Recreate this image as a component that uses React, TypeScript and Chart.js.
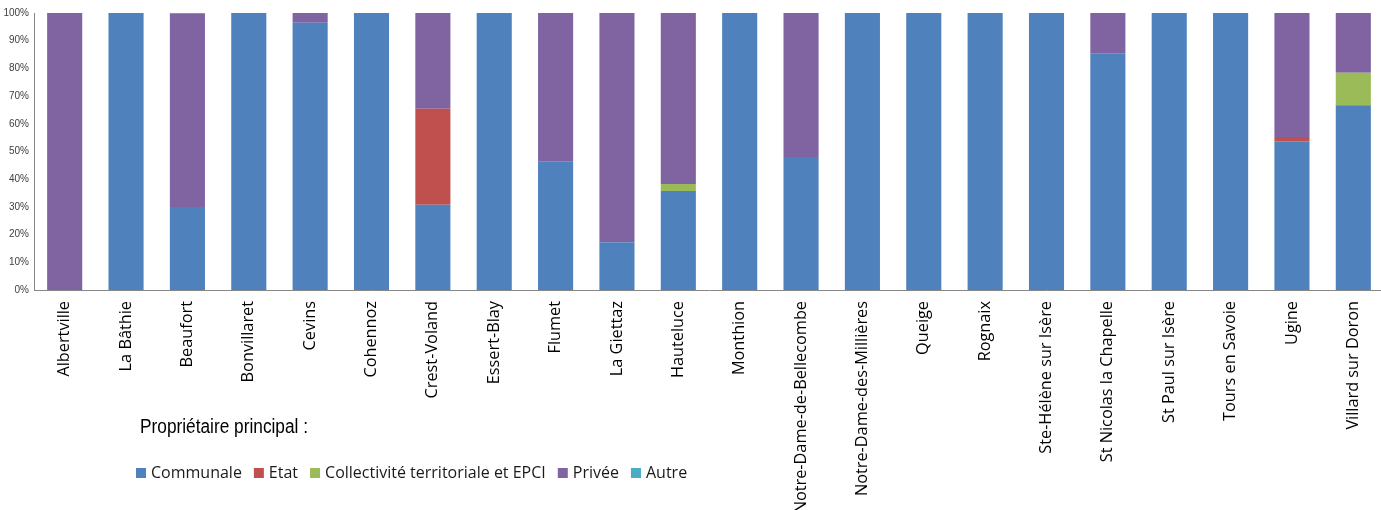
import { useEffect, useRef } from "react";
import { Chart, registerables } from "chart.js";

Chart.register(...registerables);

const communes = [
  "Albertville",
  "La Bâthie",
  "Beaufort",
  "Bonvillaret",
  "Cevins",
  "Cohennoz",
  "Crest-Voland",
  "Essert-Blay",
  "Flumet",
  "La Giettaz",
  "Hauteluce",
  "Monthion",
  "Notre-Dame-de-Bellecombe",
  "Notre-Dame-des-Millières",
  "Queige",
  "Rognaix",
  "Ste-Hélène sur Isère",
  "St Nicolas la Chapelle",
  "St Paul sur Isère",
  "Tours en Savoie",
  "Ugine",
  "Villard sur Doron",
];

const communale = [0, 100, 30, 100, 96.5, 100, 30.8, 100, 46.3, 17.2, 35.7, 100, 48, 100, 100, 100, 100, 85.3, 100, 100, 53.7, 66.7];
const etat = [0, 0, 0, 0, 0, 0, 34.6, 0, 0, 0, 0, 0, 0, 0, 0, 0, 0, 0, 0, 0, 1.5, 0];
const collectivite = [0, 0, 0, 0, 0, 0, 0, 0, 0, 0, 2.6, 0, 0, 0, 0, 0, 0, 0, 0, 0, 0, 11.7];
const privee = [100, 0, 69.6, 0, 3.5, 0, 34.6, 0, 53.7, 82.8, 61.7, 0, 52, 0, 0, 0, 0, 14.7, 0, 0, 44.8, 21.6];
const autre = [0, 0, 0.4, 0, 0, 0, 0, 0, 0, 0, 0, 0, 0, 0, 0, 0, 0, 0, 0, 0, 0, 0];

const seriesNames = ["Communale", "Etat", "Collectivité territoriale et EPCI", "Privée", "Autre"];
const seriesColors = ["#4F81BD", "#C0504D", "#9BBB59", "#8064A2", "#4BACC6"];
const legendTitle = "Propriétaire principal :";

const customLegend = {
  id: "customLegend",
  afterDraw(chart: any) {
    const ctx = chart.ctx;
    ctx.save();
    ctx.fillStyle = "#000";
    ctx.textBaseline = "middle";
    ctx.textAlign = "left";
    // condensed sans title
    ctx.font = "20px 'Liberation Sans Narrow', 'Liberation Sans', Arial, sans-serif";
    const tw = ctx.measureText(legendTitle).width;
    const targetW = 168;
    const sx = Math.min(1, targetW / tw);
    ctx.save();
    ctx.translate(140, 427);
    ctx.scale(sx, 1);
    ctx.fillText(legendTitle, 0, 0);
    ctx.restore();

    ctx.font = "16px 'Open Sans', sans-serif";
    let x = 136;
    const y = 473;
    chart.data.datasets.forEach((ds: any) => {
      ctx.fillStyle = ds.backgroundColor;
      ctx.fillRect(x, y - 5, 10, 10);
      x += 15;
      ctx.fillStyle = "#1a1a1a";
      ctx.fillText(ds.label, x, y);
      x += ctx.measureText(ds.label).width + 12;
    });
    ctx.restore();
  },
};

export default function App() {
  const canvasRef = useRef<HTMLCanvasElement | null>(null);

  useEffect(() => {
    document.documentElement.style.overflow = "hidden";
    document.body.style.overflow = "hidden";
    if (!canvasRef.current) return;
    const seriesData = [communale, etat, collectivite, privee, autre];
    const chart = new Chart(canvasRef.current, {
      type: "bar",
      data: {
        labels: communes,
        datasets: seriesNames.map((name, i) => ({
          label: name,
          data: seriesData[i],
          backgroundColor: seriesColors[i],
          borderWidth: 0,
          barPercentage: 0.572,
          categoryPercentage: 1,
        })),
      },
      options: {
        animation: false,
        responsive: true,
        maintainAspectRatio: false,
        layout: { padding: { top: 13, left: 0, right: 0, bottom: 0 } },
        plugins: {
          legend: { display: false },
          tooltip: { enabled: false },
          title: { display: false },
        },
        scales: {
          x: {
            stacked: true,
            grid: { display: false, drawTicks: false },
            border: { display: true, color: "#868686", width: 1 },
            ticks: {
              autoSkip: false,
              maxRotation: 90,
              minRotation: 90,
              padding: 11,
              color: "#000",
              font: { family: "'Open Sans', sans-serif", size: 16.3 },
            },
            afterFit: (scale: any) => {
              scale.height = 220;
            },
          },
          y: {
            stacked: true,
            min: 0,
            max: 100,
            grid: { display: false, drawTicks: false },
            border: { display: true, color: "#868686", width: 1 },
            ticks: {
              stepSize: 10,
              padding: 5,
              color: "#404040",
              font: { family: "'Liberation Sans', Arial, sans-serif", size: 10 },
              callback: (v: any) => v + "%",
            },
            afterFit: (scale: any) => {
              scale.width = 34;
            },
          },
        },
      },
      plugins: [customLegend],
    });
    return () => chart.destroy();
  }, []);

  return (
    <div style={{ position: "absolute", left: 0, top: 0, width: 1384, height: 510, background: "#fff" }}>
      <canvas ref={canvasRef} />
    </div>
  );
}
